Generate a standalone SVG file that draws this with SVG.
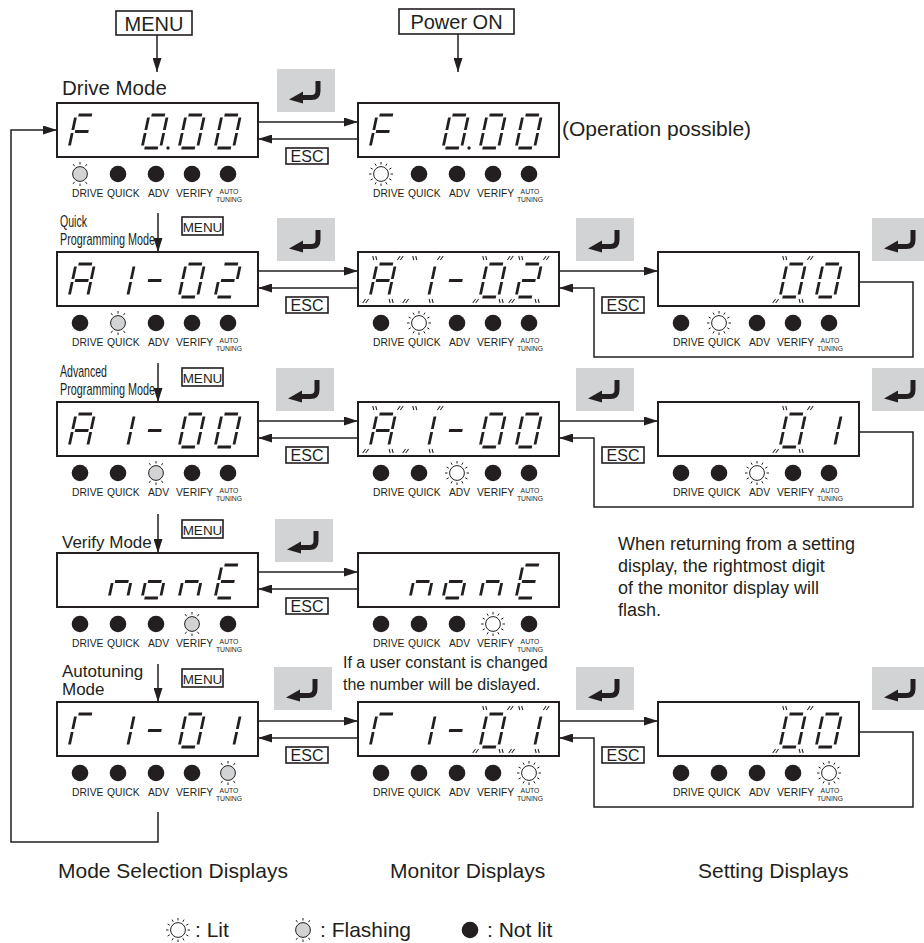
<svg xmlns="http://www.w3.org/2000/svg" width="924" height="943" viewBox="0 0 924 943">
<style>
.bx{fill:#fff;stroke:#231f20;stroke-width:2}
.sg{stroke:#231f20;stroke-width:2.8;fill:none}
.fm{stroke:#231f20;stroke-width:1;fill:none}
.ln{stroke:#231f20;stroke-width:1.5;fill:none}
.t{font-family:"Liberation Sans",Arial,sans-serif;fill:#231f20}
.kb{fill:#fff;stroke:#231f20;stroke-width:1.6}
.ray{stroke:#231f20;stroke-width:1;fill:none}
</style>
<defs>
<marker id="ah" markerWidth="14" markerHeight="9" refX="14" refY="4.5" orient="auto" markerUnits="userSpaceOnUse"><path d="M0,0 L14,4.5 L0,9 Z" fill="#231f20"/></marker>
<path id="cF" class="sg" d="M2.5,0H16M0,2.5V15M0,18V30.5M2.5,16.5H16"/>
<path id="c0" class="sg" d="M2.5,0H16M18.5,2.5V15M18.5,18V30.5M2.5,33H16M0,18V30.5M0,2.5V15"/>
<path id="cA" class="sg" d="M2.5,0H16M18.5,2.5V15M18.5,18V30.5M0,18V30.5M0,2.5V15M2.5,16.5H16"/>
<path id="c1" class="sg" d="M18.5,2.5V15M18.5,18V30.5"/>
<path id="cm" class="sg" d="M2.5,16.5H16"/>
<path id="c2" class="sg" d="M2.5,0H16M18.5,2.5V15M2.5,16.5H16M0,18V30.5M2.5,33H16"/>
<path id="cn" class="sg" d="M0,18V30.5M2.5,16.5H16M18.5,18V30.5"/>
<path id="co" class="sg" d="M18.5,18V30.5M2.5,33H16M0,18V30.5M2.5,16.5H16"/>
<path id="cE" class="sg" d="M2.5,0H16M2.5,33H16M0,18V30.5M0,2.5V15M2.5,16.5H16"/>
<path id="cT" class="sg" d="M2.5,0H16M0,18V30.5M0,2.5V15"/>
<path id="fl" class="fm" d="M-6,-8L-4,-4M-3,-8L-1,-4M19.5,-4L21.5,-8M22.5,-4L24.5,-8M-1,35L-3,39M-4,35L-6,39M19.5,35L21.5,39M22.5,35L24.5,39"/>
<circle id="Lnl" r="8.3" fill="#231f20"/>
<g id="Lfl"><circle r="7.4" fill="#d1d3d4" stroke="#231f20" stroke-width="1"/><path class="ray" d="M0,-9.5V-12M-5.45,-7.78L-6.88,-9.83M5.45,-7.78L6.88,-9.83M0,9.5V12M-5.45,7.78L-6.88,9.83M5.45,7.78L6.88,9.83"/></g>
<g id="Llt"><circle r="7.4" fill="#fff" stroke="#231f20" stroke-width="1"/><path class="ray" d="M9.5,0H12M8.23,4.75L10.39,6M4.75,8.23L6,10.39M0,9.5V12M-4.75,8.23L-6,10.39M-8.23,4.75L-10.39,6M-9.5,0H-12M-8.23,-4.75L-10.39,-6M-4.75,-8.23L-6,-10.39M0,-9.5V-12M4.75,-8.23L6,-10.39M8.23,-4.75L10.39,-6"/></g>
<g id="lbl" class="t">
<text x="15" y="94" font-size="10.3">DRIVE</text>
<text x="50" y="94" font-size="10.3">QUICK</text>
<text x="91" y="94" font-size="10.3">ADV</text>
<text x="119" y="94" font-size="10.3">VERIFY</text>
<text x="172" y="91" font-size="6.8" text-anchor="middle">AUTO</text>
<text x="172" y="99" font-size="6.8" text-anchor="middle">TUNING</text>
</g>
<g id="ent"><rect width="58" height="43" fill="#d1d3d4"/><path d="M41,12V22Q41,28.5 34.5,28.5H24" stroke="#231f20" stroke-width="5" fill="none"/><path d="M26,22.5L12,30.5L26,34.5Z" fill="#231f20"/></g>
<g id="esc"><rect class="kb" width="42" height="16"/><text class="t" x="21" y="14" font-size="16" text-anchor="middle">ESC</text></g>
<g id="menu"><rect class="kb" width="41" height="18"/><text class="t" x="20.5" y="15" font-size="13.5" text-anchor="middle">MENU</text></g>
</defs>

<!-- connectors -->
<g id="connectors" class="ln">
<line x1="157" y1="35" x2="157" y2="72" marker-end="url(#ah)"/>
<line x1="458" y1="34" x2="458" y2="72" marker-end="url(#ah)"/>
<line x1="158" y1="213" x2="158" y2="252" marker-end="url(#ah)"/>
<line x1="158" y1="363" x2="158" y2="402" marker-end="url(#ah)"/>
<line x1="158" y1="514" x2="158" y2="553" marker-end="url(#ah)"/>
<line x1="158" y1="664" x2="158" y2="702" marker-end="url(#ah)"/>
<polyline points="158,812 158,842 11,842 11,130 57,130" marker-end="url(#ah)"/>
<line x1="258" y1="122" x2="358" y2="122" marker-end="url(#ah)"/>
<line x1="358" y1="139" x2="258" y2="139" marker-end="url(#ah)"/>
<line x1="258" y1="271" x2="358" y2="271" marker-end="url(#ah)"/>
<line x1="358" y1="288" x2="258" y2="288" marker-end="url(#ah)"/>
<line x1="559" y1="271" x2="658" y2="271" marker-end="url(#ah)"/>
<polyline points="859,282 913,282 913,357 594,357 594,288 559,288" marker-end="url(#ah)"/>
<line x1="258" y1="421" x2="358" y2="421" marker-end="url(#ah)"/>
<line x1="358" y1="438" x2="258" y2="438" marker-end="url(#ah)"/>
<line x1="559" y1="421" x2="658" y2="421" marker-end="url(#ah)"/>
<polyline points="859,432 913,432 913,507 594,507 594,438 559,438" marker-end="url(#ah)"/>
<line x1="258" y1="572" x2="358" y2="572" marker-end="url(#ah)"/>
<line x1="358" y1="589" x2="258" y2="589" marker-end="url(#ah)"/>
<line x1="258" y1="721" x2="358" y2="721" marker-end="url(#ah)"/>
<line x1="358" y1="738" x2="258" y2="738" marker-end="url(#ah)"/>
<line x1="559" y1="721" x2="658" y2="721" marker-end="url(#ah)"/>
<polyline points="859,732 913,732 913,807 594,807 594,738 559,738" marker-end="url(#ah)"/>
</g>

<!-- keys -->
<g id="keys">
<rect class="kb" x="116" y="11" width="76" height="24"/><text class="t" x="154" y="31" font-size="20" text-anchor="middle">MENU</text>
<rect class="kb" x="399" y="9" width="115" height="25"/><text class="t" x="456.5" y="29" font-size="20" text-anchor="middle">Power ON</text>
<use href="#ent" x="277" y="69"/>
<use href="#ent" x="277" y="218"/><use href="#ent" x="576" y="218"/><use href="#ent" x="872" y="218"/>
<use href="#ent" x="276" y="368"/><use href="#ent" x="576" y="368"/><use href="#ent" x="872" y="368"/>
<use href="#ent" x="275" y="519"/>
<use href="#ent" x="274" y="667"/><use href="#ent" x="576" y="667"/><use href="#ent" x="872" y="667"/>
<use href="#esc" x="286" y="148"/>
<use href="#esc" x="286" y="297"/><use href="#esc" x="602" y="297"/>
<use href="#esc" x="286" y="447"/><use href="#esc" x="602" y="447"/>
<use href="#esc" x="286" y="598"/>
<use href="#esc" x="286" y="747"/><use href="#esc" x="602" y="747"/>
<use href="#menu" x="182" y="217"/>
<use href="#menu" x="182" y="368"/>
<use href="#menu" x="182" y="520"/>
<use href="#menu" x="182" y="669"/>
</g>

<!-- row 1 -->
<g id="n-drive-sel" transform="translate(57,103)">
<rect class="bx" width="201" height="54"/>
<use href="#cF" transform="translate(19,12) skewX(-12)"/>
<use href="#c0" transform="translate(92,12) skewX(-12)"/>
<circle cx="111" cy="45" r="1.7" fill="#231f20"/>
<use href="#c0" transform="translate(129,12) skewX(-12)"/>
<use href="#c0" transform="translate(165,12) skewX(-12)"/>
<use href="#Lfl" x="23" y="71"/><use href="#Lnl" x="61" y="71"/><use href="#Lnl" x="99" y="71"/><use href="#Lnl" x="135" y="71"/><use href="#Lnl" x="171" y="71"/>
<use href="#lbl"/>
</g>
<g id="n-drive-mon" transform="translate(358,103)">
<rect class="bx" width="201" height="54"/>
<use href="#cF" transform="translate(19,12) skewX(-12)"/>
<use href="#c0" transform="translate(92,12) skewX(-12)"/>
<circle cx="111" cy="45" r="1.7" fill="#231f20"/>
<use href="#c0" transform="translate(129,12) skewX(-12)"/>
<use href="#c0" transform="translate(165,12) skewX(-12)"/>
<use href="#Llt" x="23" y="71"/><use href="#Lnl" x="61" y="71"/><use href="#Lnl" x="99" y="71"/><use href="#Lnl" x="135" y="71"/><use href="#Lnl" x="171" y="71"/>
<use href="#lbl"/>
</g>

<!-- row 2 -->
<g id="n-quick-sel" transform="translate(57,252)">
<rect class="bx" width="201" height="54"/>
<use href="#cA" transform="translate(19,12) skewX(-12)"/>
<use href="#c1" transform="translate(59,12) skewX(-12)"/>
<use href="#cm" transform="translate(92,12) skewX(-12)"/>
<use href="#c0" transform="translate(129,12) skewX(-12)"/>
<use href="#c2" transform="translate(165,12) skewX(-12)"/>
<use href="#Lnl" x="23" y="71"/><use href="#Lfl" x="61" y="71"/><use href="#Lnl" x="99" y="71"/><use href="#Lnl" x="135" y="71"/><use href="#Lnl" x="171" y="71"/>
<use href="#lbl"/>
</g>
<g id="n-quick-mon" transform="translate(358,252)">
<rect class="bx" width="201" height="54"/>
<use href="#cA" transform="translate(19,12) skewX(-12)"/><use href="#fl" transform="translate(19,12) skewX(-12)"/>
<use href="#c1" transform="translate(59,12) skewX(-12)"/><use href="#fl" transform="translate(59,12) skewX(-12)"/>
<use href="#cm" transform="translate(92,12) skewX(-12)"/>
<use href="#c0" transform="translate(129,12) skewX(-12)"/><use href="#fl" transform="translate(129,12) skewX(-12)"/>
<use href="#c2" transform="translate(165,12) skewX(-12)"/><use href="#fl" transform="translate(165,12) skewX(-12)"/>
<use href="#Lnl" x="23" y="71"/><use href="#Llt" x="61" y="71"/><use href="#Lnl" x="99" y="71"/><use href="#Lnl" x="135" y="71"/><use href="#Lnl" x="171" y="71"/>
<use href="#lbl"/>
</g>
<g id="n-quick-set" transform="translate(658,252)">
<rect class="bx" width="201" height="54"/>
<use href="#c0" transform="translate(129,12) skewX(-12)"/><use href="#fl" transform="translate(129,12) skewX(-12)"/>
<use href="#c0" transform="translate(165,12) skewX(-12)"/>
<use href="#Lnl" x="23" y="71"/><use href="#Llt" x="61" y="71"/><use href="#Lnl" x="99" y="71"/><use href="#Lnl" x="135" y="71"/><use href="#Lnl" x="171" y="71"/>
<use href="#lbl"/>
</g>

<!-- row 3 -->
<g id="n-adv-sel" transform="translate(57,402)">
<rect class="bx" width="201" height="54"/>
<use href="#cA" transform="translate(19,12) skewX(-12)"/>
<use href="#c1" transform="translate(59,12) skewX(-12)"/>
<use href="#cm" transform="translate(92,12) skewX(-12)"/>
<use href="#c0" transform="translate(129,12) skewX(-12)"/>
<use href="#c0" transform="translate(165,12) skewX(-12)"/>
<use href="#Lnl" x="23" y="71"/><use href="#Lnl" x="61" y="71"/><use href="#Lfl" x="99" y="71"/><use href="#Lnl" x="135" y="71"/><use href="#Lnl" x="171" y="71"/>
<use href="#lbl"/>
</g>
<g id="n-adv-mon" transform="translate(358,402)">
<rect class="bx" width="201" height="54"/>
<use href="#cA" transform="translate(19,12) skewX(-12)"/><use href="#fl" transform="translate(19,12) skewX(-12)"/>
<use href="#c1" transform="translate(59,12) skewX(-12)"/><use href="#fl" transform="translate(59,12) skewX(-12)"/>
<use href="#cm" transform="translate(92,12) skewX(-12)"/>
<use href="#c0" transform="translate(129,12) skewX(-12)"/>
<use href="#c0" transform="translate(165,12) skewX(-12)"/>
<use href="#Lnl" x="23" y="71"/><use href="#Lnl" x="61" y="71"/><use href="#Llt" x="99" y="71"/><use href="#Lnl" x="135" y="71"/><use href="#Lnl" x="171" y="71"/>
<use href="#lbl"/>
</g>
<g id="n-adv-set" transform="translate(658,402)">
<rect class="bx" width="201" height="54"/>
<use href="#c0" transform="translate(129,12) skewX(-12)"/><use href="#fl" transform="translate(129,12) skewX(-12)"/>
<use href="#c1" transform="translate(165,12) skewX(-12)"/>
<use href="#Lnl" x="23" y="71"/><use href="#Lnl" x="61" y="71"/><use href="#Llt" x="99" y="71"/><use href="#Lnl" x="135" y="71"/><use href="#Lnl" x="171" y="71"/>
<use href="#lbl"/>
</g>

<!-- row 4 -->
<g id="n-verify-sel" transform="translate(57,553)">
<rect class="bx" width="201" height="54"/>
<use href="#cn" transform="translate(59,12) skewX(-12)"/>
<use href="#co" transform="translate(92,12) skewX(-12)"/>
<use href="#cn" transform="translate(129,12) skewX(-12)"/>
<use href="#cE" transform="translate(165,12) skewX(-12)"/>
<use href="#Lnl" x="23" y="71"/><use href="#Lnl" x="61" y="71"/><use href="#Lnl" x="99" y="71"/><use href="#Lfl" x="135" y="71"/><use href="#Lnl" x="171" y="71"/>
<use href="#lbl"/>
</g>
<g id="n-verify-mon" transform="translate(358,553)">
<rect class="bx" width="201" height="54"/>
<use href="#cn" transform="translate(59,12) skewX(-12)"/>
<use href="#co" transform="translate(92,12) skewX(-12)"/>
<use href="#cn" transform="translate(129,12) skewX(-12)"/>
<use href="#cE" transform="translate(165,12) skewX(-12)"/>
<use href="#Lnl" x="23" y="71"/><use href="#Lnl" x="61" y="71"/><use href="#Lnl" x="99" y="71"/><use href="#Llt" x="135" y="71"/><use href="#Lnl" x="171" y="71"/>
<use href="#lbl"/>
</g>

<!-- row 5 -->
<g id="n-auto-sel" transform="translate(57,702)">
<rect class="bx" width="201" height="54"/>
<use href="#cT" transform="translate(19,12) skewX(-12)"/>
<use href="#c1" transform="translate(59,12) skewX(-12)"/>
<use href="#cm" transform="translate(92,12) skewX(-12)"/>
<use href="#c0" transform="translate(129,12) skewX(-12)"/>
<use href="#c1" transform="translate(165,12) skewX(-12)"/>
<use href="#Lnl" x="23" y="71"/><use href="#Lnl" x="61" y="71"/><use href="#Lnl" x="99" y="71"/><use href="#Lnl" x="135" y="71"/><use href="#Lfl" x="171" y="71"/>
<use href="#lbl"/>
</g>
<g id="n-auto-mon" transform="translate(358,702)">
<rect class="bx" width="201" height="54"/>
<use href="#cT" transform="translate(19,12) skewX(-12)"/>
<use href="#c1" transform="translate(59,12) skewX(-12)"/>
<use href="#cm" transform="translate(92,12) skewX(-12)"/>
<use href="#c0" transform="translate(129,12) skewX(-12)"/><use href="#fl" transform="translate(129,12) skewX(-12)"/>
<use href="#c1" transform="translate(165,12) skewX(-12)"/><use href="#fl" transform="translate(165,12) skewX(-12)"/>
<use href="#Lnl" x="23" y="71"/><use href="#Lnl" x="61" y="71"/><use href="#Lnl" x="99" y="71"/><use href="#Lnl" x="135" y="71"/><use href="#Llt" x="171" y="71"/>
<use href="#lbl"/>
</g>
<g id="n-auto-set" transform="translate(658,702)">
<rect class="bx" width="201" height="54"/>
<use href="#c0" transform="translate(129,12) skewX(-12)"/><use href="#fl" transform="translate(129,12) skewX(-12)"/>
<use href="#c0" transform="translate(165,12) skewX(-12)"/>
<use href="#Lnl" x="23" y="71"/><use href="#Lnl" x="61" y="71"/><use href="#Lnl" x="99" y="71"/><use href="#Lnl" x="135" y="71"/><use href="#Llt" x="171" y="71"/>
<use href="#lbl"/>
</g>

<!-- texts -->
<g id="texts" class="t">
<text x="62" y="95" font-size="20.5">Drive Mode</text>
<text x="562" y="136" font-size="21">(Operation possible)</text>
<text x="60" y="227" font-size="17" textLength="27" lengthAdjust="spacingAndGlyphs">Quick</text>
<text x="60" y="245" font-size="17" textLength="95" lengthAdjust="spacingAndGlyphs">Programming Mode</text>
<text x="60" y="377" font-size="17" textLength="47" lengthAdjust="spacingAndGlyphs">Advanced</text>
<text x="60" y="395" font-size="17" textLength="95" lengthAdjust="spacingAndGlyphs">Programming Mode</text>
<text x="62" y="548" font-size="17">Verify Mode</text>
<text x="62" y="677" font-size="17">Autotuning</text>
<text x="62" y="695" font-size="17">Mode</text>
<text x="618" y="550" font-size="18">When returning from a setting</text>
<text x="618" y="572" font-size="18">display, the rightmost digit</text>
<text x="618" y="594" font-size="18">of the monitor display will</text>
<text x="618" y="616" font-size="18">flash.</text>
<text x="343" y="668" font-size="16">If a user constant is changed</text>
<text x="343" y="690" font-size="16">the number will be dislayed.</text>
<text x="58" y="878" font-size="21">Mode Selection Displays</text>
<text x="390" y="878" font-size="21">Monitor Displays</text>
<text x="698" y="878" font-size="21">Setting Displays</text>
</g>

<!-- legend -->
<g id="legend">
<use href="#Llt" x="178" y="930"/>
<text class="t" x="195" y="937" font-size="21">: Lit</text>
<use href="#Lfl" x="303" y="930"/>
<text class="t" x="320" y="937" font-size="21">: Flashing</text>
<use href="#Lnl" x="470" y="930"/>
<text class="t" x="487" y="937" font-size="21">: Not lit</text>
</g>
</svg>
